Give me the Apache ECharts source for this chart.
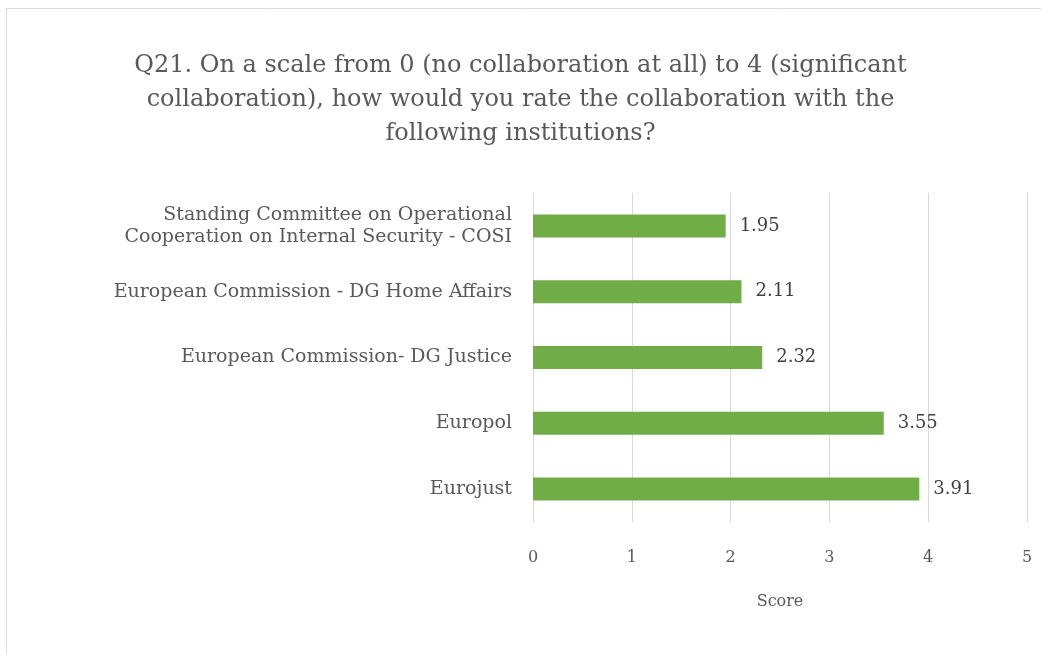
<!DOCTYPE html>
<html><head><meta charset="utf-8">
<script src="https://cdn.jsdelivr.net/npm/echarts@6/dist/echarts.min.js"></script>
<style>html,body{margin:0;padding:0;background:#fff}#c{width:1041px;height:655px}</style>
</head><body><div id="c"></div>
<script>
const titleText = 'Q21. On a scale from 0 (no collaboration at all) to 4 (significant\ncollaboration), how would you rate the collaboration with the\nfollowing institutions?';
const categories = ['Eurojust', 'Europol', 'European Commission- DG Justice', 'European Commission - DG Home Affairs', 'Standing Committee on Operational\nCooperation on Internal Security - COSI'];
const scores = [3.91, 3.55, 2.32, 2.11, 1.95];
const xTicks = [0, 1, 2, 3, 4, 5];
const axisName = 'Score';
const font = '"DejaVu Serif", "Liberation Serif", serif';
const chart = echarts.init(document.getElementById('c'));
chart.setOption({
  animation: false,
  backgroundColor: '#fff',
  graphic: [{type: 'rect', shape: {x: 6.5, y: 8.5, width: 1100, height: 700}, style: {fill: 'none', stroke: '#d9d9d9', lineWidth: 1}, silent: true}],
  title: {text: titleText, left: 'center', top: 44, textStyle: {fontFamily: font, fontSize: 24, fontWeight: 'normal', color: '#595959', lineHeight: 34}},
  grid: {left: 533, right: 14, top: 193, bottom: 133},
  xAxis: {type: 'value', min: xTicks[0], max: xTicks[xTicks.length - 1], interval: 1,
    name: axisName, nameLocation: 'middle', nameGap: 72,
    nameTextStyle: {fontFamily: font, fontSize: 16, color: '#595959'},
    axisLine: {show: false}, axisTick: {show: false},
    axisLabel: {fontFamily: font, fontSize: 16, color: '#595959', margin: 28},
    splitLine: {lineStyle: {color: '#d9d9d9', width: 1}}},
  yAxis: {type: 'category', data: categories,
    axisLine: {show: false}, axisTick: {show: false},
    axisLabel: {fontFamily: font, fontSize: 19, color: '#595959', margin: 21, lineHeight: 22, align: 'right'}},
  series: [{type: 'bar', data: scores, barWidth: 23,
    itemStyle: {color: '#70ad47'},
    label: {show: true, position: 'right', distance: 14, fontFamily: font, fontSize: 18, color: '#404040', formatter: p => p.value.toFixed(2)}}]
});
</script></body></html>
